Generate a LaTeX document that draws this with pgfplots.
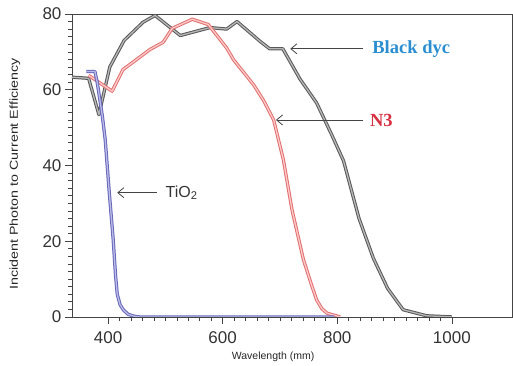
\documentclass[border=0pt]{standalone}
\usepackage{pgfplots}
\pgfplotsset{compat=1.18}
\usepackage{graphicx}
\usepackage{fontspec}
\setmainfont{Liberation Sans}
\newfontfamily\serifb{Liberation Serif}
\usetikzlibrary{arrows.meta}
\definecolor{axisgray}{HTML}{444444}
\definecolor{grayout}{HTML}{585858}
\definecolor{grayin}{HTML}{B8B8B8}
\definecolor{redout}{HTML}{E07070}
\definecolor{redin}{HTML}{FFCACA}
\definecolor{blueout}{HTML}{6868B8}
\definecolor{bluein}{HTML}{BCBCEA}
\definecolor{dyeblue}{HTML}{2A8ED0}
\definecolor{nred}{HTML}{D83040}

\pgfplotstableread{
x y
337 63.3
366 63.0
384 53.4
403 66.0
428 73.0
461 77.8
482 79.6
526 74.3
578 76.4
607 76.0
625 78.0
665 72.8
682 70.8
705 70.8
735 62.8
764 56.5
790 48.2
811 41.2
838 26.0
863 15.5
888 7.5
915 1.9
956 0.3
1000 0.0
}\blackdye

\pgfplotstableread{
x y
366 63.8
407 59.6
426 65.3
450 68.0
473 70.6
496 72.5
512 76.2
547 78.6
575 77.2
607 71.0
619 67.9
654 61.3
672 57.0
689 52.0
706 41.5
721 28.3
741 15.1
755 8.5
764 4.5
773 2.2
782 1.0
805 0.0
}\nthree

\pgfplotstableread{
x y
362 64.8
377 64.8
381 62.0
390 53.0
395 46.8
402 33.0
409 20.3
413 11.0
416 6.0
421 3.2
427 1.8
435 0.7
445 0.2
455 0.0
795 0.0
}\tio

\begin{document}
\begin{tikzpicture}
\begin{axis}[
  scale only axis,
  width=440pt, height=303pt,
  xmin=337, xmax=1105, ymin=0, ymax=80,
  xtick={400,600,800,1000}, ytick={0,20,40,60,80},
  minor x tick num=9, minor y tick num=9,
  tick align=outside,
  xtick pos=lower, ytick pos=left,
  major tick length=7pt, minor tick length=4pt,
  tick style={axisgray, line width=0.6pt},
  axis line style={axisgray, line width=0.8pt},
  ticklabel style={font=\fontsize{17}{20}\selectfont, text=black!80},
  xticklabel style={yshift=-4pt},
  /pgf/number format/assume math mode=true,
  /pgf/number format/1000 sep={},
  xlabel={Wavelength (mm)},
  ylabel={\scalebox{1.24}[1]{Incident Photon to Current Efficiency}},
  every axis x label/.style={at={(axis description cs:0.457,0)}, anchor=center, yshift=-40pt, font=\fontsize{10.5}{12}\selectfont, text=black!85},
  every axis y label/.style={at={(axis description cs:0,0.472)}, rotate=90, anchor=center, yshift=57pt, font=\fontsize{11.5}{13}\selectfont, text=black!85},
  clip=true,
]
\addplot[draw=grayout, double=grayin, line width=1pt, double distance=1.3pt, line join=round] table {\blackdye};
\addplot[draw=redout, double=redin, line width=1pt, double distance=1.3pt, line join=round] table {\nthree};
\addplot[draw=blueout, double=bluein, line width=1pt, double distance=1.3pt, line join=round] table {\tio};

\draw[axisgray, line width=0.8pt, -{Straight Barb[length=6pt,width=10pt]}] (axis cs:845,70.8) -- (axis cs:718,70.8);
\draw[axisgray, line width=0.8pt, -{Straight Barb[length=6pt,width=10pt]}] (axis cs:845,52.0) -- (axis cs:693,52.0);
\draw[axisgray, line width=0.8pt, -{Straight Barb[length=6pt,width=10pt]}] (axis cs:485,32.8) -- (axis cs:416,32.8);

\node[anchor=west, inner sep=0pt, text=dyeblue, font=\serifb\bfseries\fontsize{18.5}{20}\selectfont] at (axis cs:861,70.8) {Black dyc};
\node[anchor=west, inner sep=0pt, text=nred, font=\serifb\bfseries\fontsize{18.5}{20}\selectfont] at (axis cs:857,52.0) {N3};
\node[anchor=west, inner sep=0pt, text=black!80, font=\fontsize{16}{18}\selectfont] at (axis cs:500,32.8) {TiO\textsubscript{2}};

\coordinate (bl) at (axis description cs:-0.1636,-0.1617);
\coordinate (tr) at (axis description cs:1.0023,1.046);
\end{axis}
\pgfresetboundingbox
\path (bl) rectangle (tr);
\end{tikzpicture}
\end{document}
